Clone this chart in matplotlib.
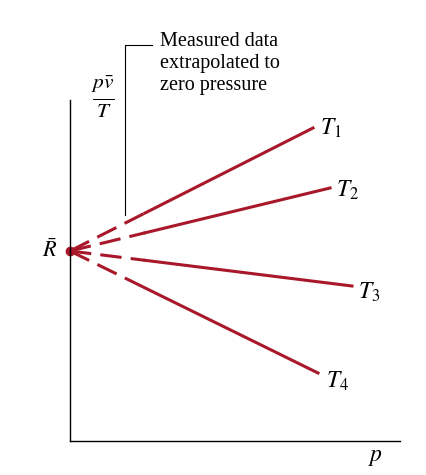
import matplotlib
matplotlib.use("Agg")
import matplotlib.pyplot as plt
plt.rcParams['mathtext.fontset'] = 'stix'
plt.rcParams['font.family'] = ['Liberation Serif']

R = 190
names = ['T_1', 'T_2', 'T_3', 'T_4']
end_x = [243, 260, 282, 248]
end_y = [313, 253, 155, 68]
dash_end = 75
label_pos = [(250, 313), (266, 251), (288, 149), (256, 60)]
col = '#a8182a'

fig = plt.figure(figsize=(4.26, 4.75), dpi=100)
ax = fig.add_axes([70/426, 34/475, 330/426, 341/475])
ax.set_xlim(0, 330); ax.set_ylim(0, 341)
for s in ['top', 'right']:
    ax.spines[s].set_visible(False)
for s in ['left', 'bottom']:
    ax.spines[s].set_linewidth(1.0)
ax.set_xticks([]); ax.set_yticks([])

for n, ex, ey, (lx, ly) in zip(names, end_x, end_y, label_pos):
    slope = (ey - R) / ex
    yd = R + slope * dash_end
    ax.plot([0, dash_end], [R, yd], color=col, lw=2.2, ls=(0, (7, 3)), solid_capstyle='butt')
    ax.plot([dash_end, ex], [yd, ey], color=col, lw=2.2)
    ax.text(lx, ly, f'${n}$', fontsize=17, ha='left', va='center')

ax.plot([0], [R], 'o', color=col, ms=6, clip_on=False)
ax.plot([55, 55, 82], [226, 396, 396], color='k', lw=0.8, clip_on=False)
ax.text(90, 409, 'Measured data\nextrapolated to\nzero pressure', fontsize=14.5,
        ha='left', va='top', linespacing=1.2)
ax.text(-20, R, r'$\bar{R}$', fontsize=16, ha='center', va='center')
ax.text(33, 344, r'$\frac{p\bar{v}}{T}$', fontsize=22, ha='center', va='center')
ax.text(305, -17, r'$p$', fontsize=17, ha='center', va='center')
fig.savefig('out.png', dpi=100)
